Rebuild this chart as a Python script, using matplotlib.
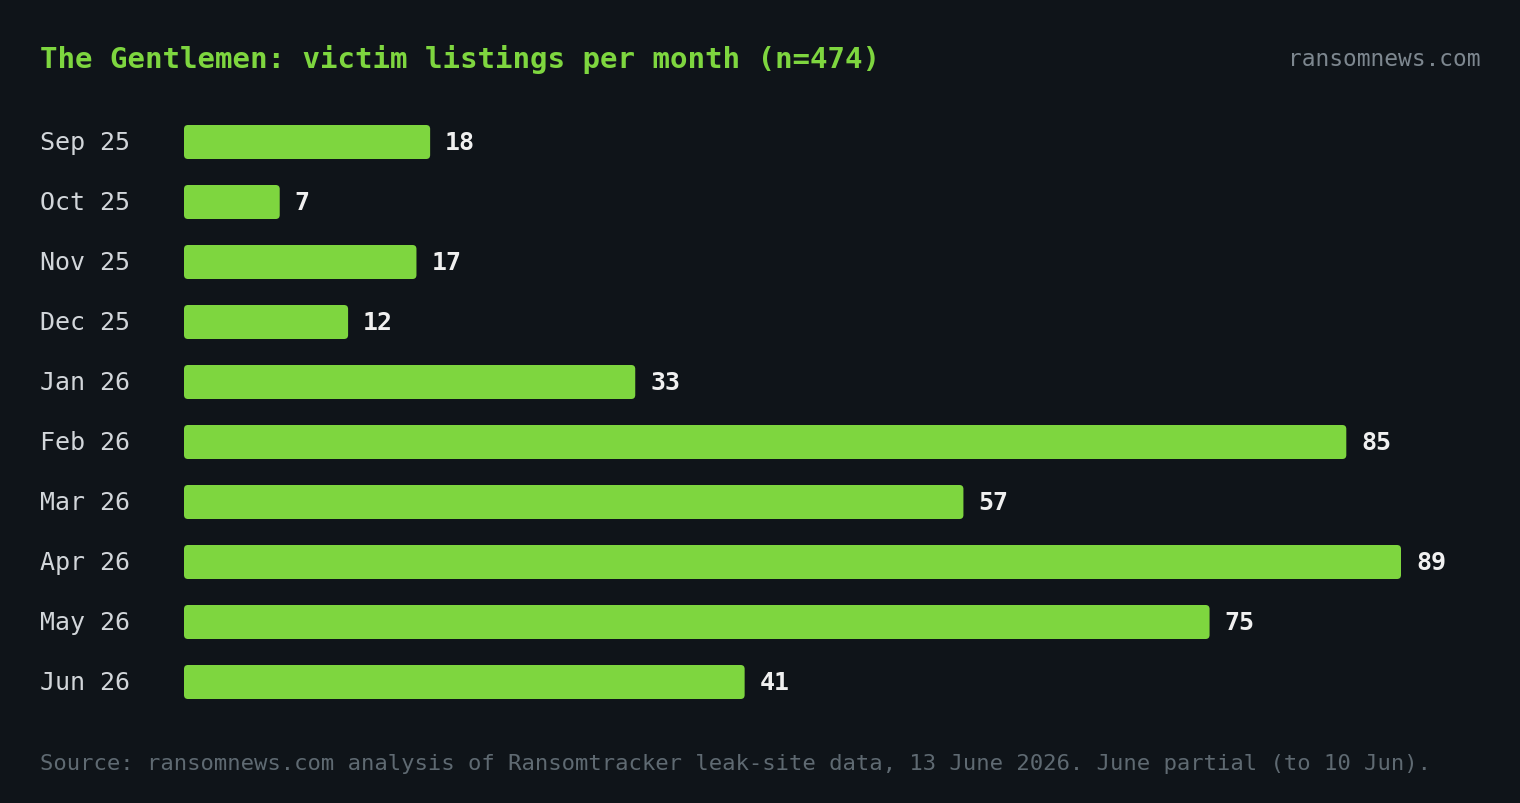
import matplotlib
matplotlib.use("Agg")
import matplotlib.pyplot as plt
from matplotlib.patches import FancyBboxPatch

months = ["Sep 25","Oct 25","Nov 25","Dec 25","Jan 26","Feb 26","Mar 26","Apr 26","May 26","Jun 26"]
counts = [18, 7, 17, 12, 33, 85, 57, 89, 75, 41]

BG = "#0f1419"; GREEN = "#7ed63f"; LABEL = "#d2d6da"; GREY = "#5f6a72"
W, H = 1520, 804
fig = plt.figure(figsize=(W/100, H/100), dpi=100, facecolor=BG)
ax = fig.add_axes([184/W, 1-713/H, 1296/W, 600/H])
ax.set_facecolor(BG)
pxu = 1217/89
ax.set_xlim(0, 1296/pxu)
ax.set_ylim(len(months)-0.5, -0.5)
for s in ax.spines.values():
    s.set_visible(False)
ax.set_xticks([]); ax.set_yticks([])

bars = ax.barh(range(len(months)), counts, height=34/60, color=GREEN)
rx = 4/pxu; ry = 4/60
for b, v, m in zip(bars, counts, months):
    b.set_visible(False)
    p = FancyBboxPatch((b.get_x(), b.get_y()), b.get_width(), b.get_height(),
                       boxstyle=f"round,pad=0,rounding_size={rx}",
                       mutation_aspect=ry/rx, facecolor=GREEN, edgecolor="none")
    ax.add_patch(p)
    yc = b.get_y() + b.get_height()/2
    ax.text(b.get_width() + 15/pxu, yc, str(v), color="#f0f0f0", fontsize=18,
            fontweight="bold", family="DejaVu Sans Mono", va="center", ha="left")
    ax.text(-144/pxu, yc, m, color=LABEL, fontsize=18, family="DejaVu Sans Mono",
            va="center", ha="left")

fig.text(40/W, 1-60/H, "The Gentlemen: victim listings per month (n=474)", color=GREEN,
         fontsize=21, fontweight="bold", family="DejaVu Sans Mono", va="center", ha="left")
fig.text(1480/W, 1-60/H, "ransomnews.com", color="#7d878f", fontsize=16.5,
         family="DejaVu Sans Mono", va="center", ha="right")
fig.text(40/W, 1-764/H, "Source: ransomnews.com analysis of Ransomtracker leak-site data, 13 June 2026. June partial (to 10 Jun).",
         color=GREY, fontsize=16, family="DejaVu Sans Mono", va="center", ha="left")
fig.savefig("out.png", dpi=100, facecolor=BG)
